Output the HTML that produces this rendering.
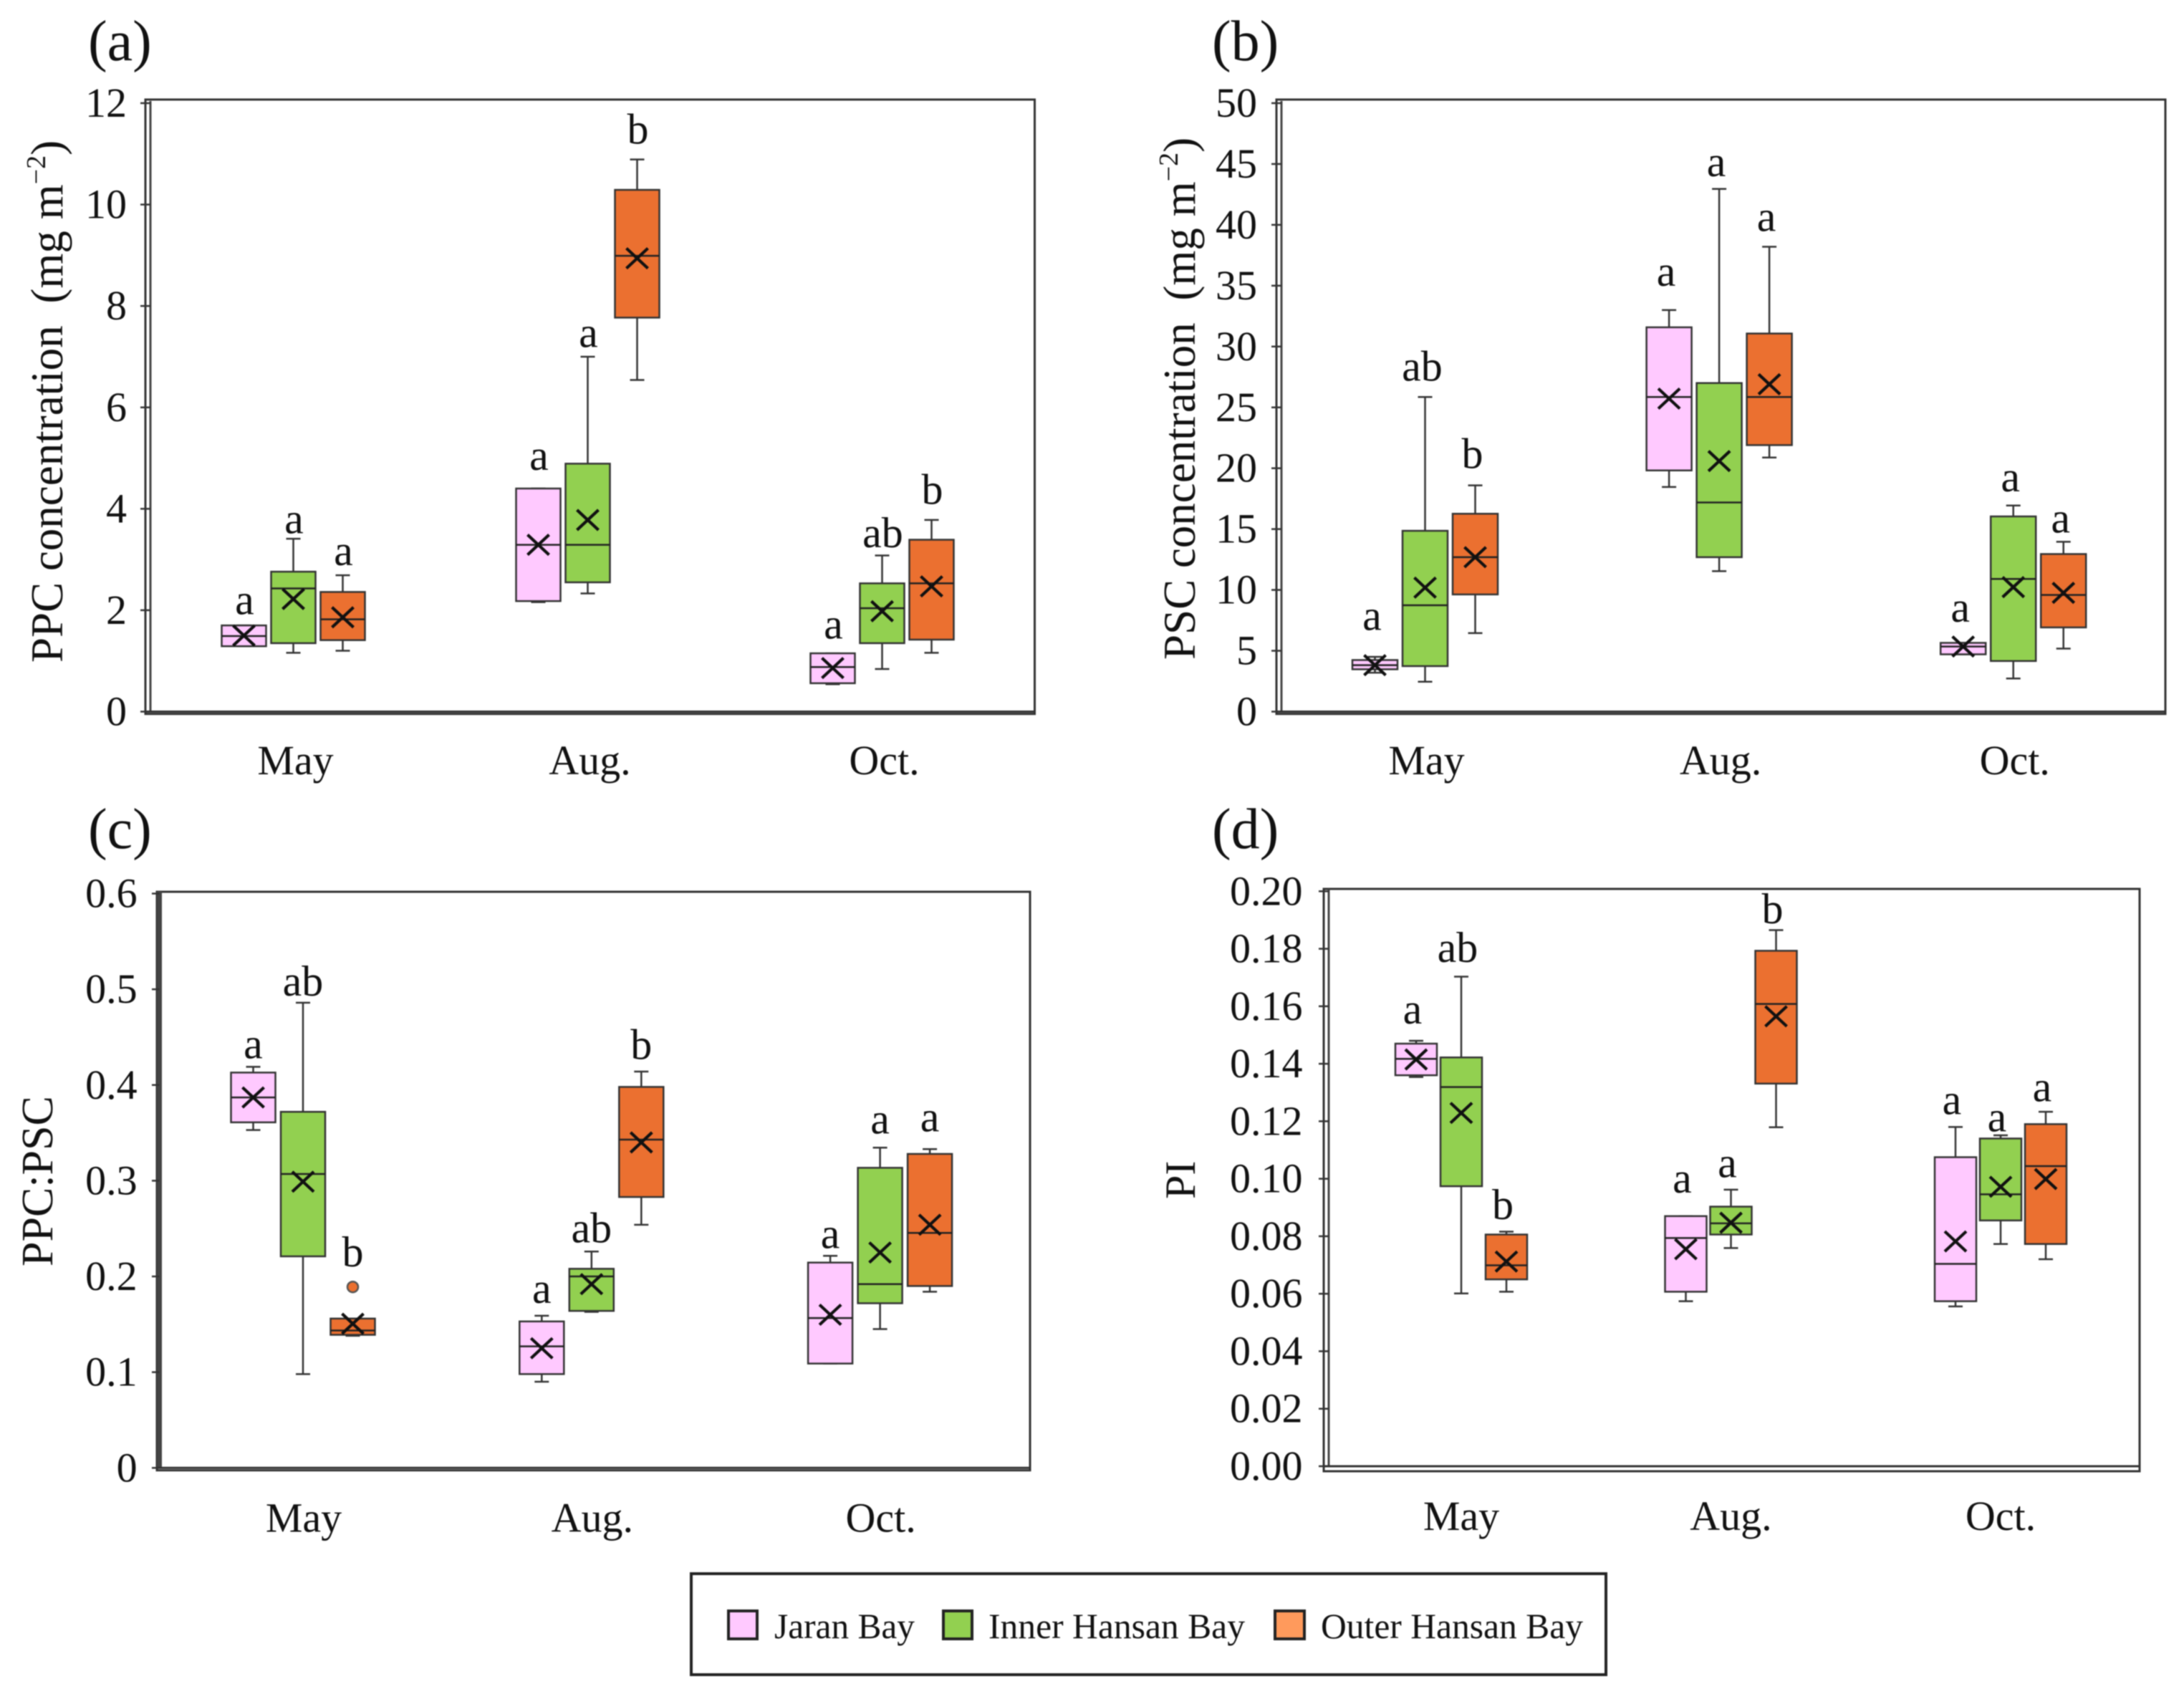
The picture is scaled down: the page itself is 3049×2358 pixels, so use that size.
<!DOCTYPE html>
<html lang="en">
<head>
<meta charset="utf-8">
<title>PPC and PSC box plots</title>
<style>
html,body{margin:0;padding:0;background:#fff;width:3049px;height:2358px;overflow:hidden}
svg{display:block;position:absolute;left:0;top:0;filter:blur(0.7px)}
text{font-family:"Liberation Serif","Times New Roman",serif;fill:#111}
</style>
</head>
<body>
<svg id="figure" xmlns="http://www.w3.org/2000/svg" width="3049" height="2358" viewBox="0 0 3049 2358">
  <rect x="0" y="0" width="3049" height="2358" fill="#fff"/>
  <text x="123" y="84" font-size="80">(a)</text>
  <text x="1692" y="84" font-size="80">(b)</text>
  <text x="123" y="1184" font-size="80">(c)</text>
  <text x="1692" y="1184" font-size="80">(d)</text>

  <text transform="translate(87,925) rotate(-90)" font-size="63">PPC concentration<tspan dx="15"> (mg m</tspan><tspan dy="-24" font-size="38">−2</tspan><tspan dy="24">)</tspan></text>
  <text transform="translate(1668,921) rotate(-90)" font-size="63">PSC concentration<tspan dx="15"> (mg m</tspan><tspan dy="-24" font-size="38">−2</tspan><tspan dy="24">)</tspan></text>
  <text transform="translate(73,1768) rotate(-90)" font-size="62">PPC:PSC</text>
  <text transform="translate(1668,1674) rotate(-90)" font-size="60">PI</text>

  <g>
    <rect x="965" y="2197" width="1277" height="141" fill="#fff" stroke="#222" stroke-width="4"/>
    <rect x="1017" y="2249" width="40" height="39" fill="#FFC9FF" stroke="#222" stroke-width="4"/>
    <text x="1081" y="2287" font-size="50" textLength="196" lengthAdjust="spacingAndGlyphs">Jaran Bay</text>
    <rect x="1317" y="2249" width="40" height="39" fill="#92D050" stroke="#222" stroke-width="4"/>
    <text x="1380" y="2287" font-size="50" textLength="358" lengthAdjust="spacingAndGlyphs">Inner Hansan Bay</text>
    <rect x="1780" y="2249" width="41" height="39" fill="#FF9A5C" stroke="#222" stroke-width="4"/>
    <text x="1844" y="2287" font-size="50" textLength="366" lengthAdjust="spacingAndGlyphs">Outer Hansan Bay</text>
  </g>
</svg>
<script>
// Shared categories. All value arrays run May, Aug., Oct. with Jaran, Inner, Outer inside each month.
const months = ['May', 'Aug.', 'Oct.'];
const sites = ['jaran', 'inner', 'outer'];

// Panel (a) PPC concentration
const aTickValues = [0, 2, 4, 6, 8, 10, 12];
const aTickLabels = ['0', '2', '4', '6', '8', '10', '12'];
const aLow = [1.29, 1.16, 1.20, 2.16, 2.33, 6.54, 0.54, 0.84, 1.16];
const aQ1 = [1.29, 1.35, 1.41, 2.18, 2.55, 7.77, 0.56, 1.35, 1.42];
const aMedian = [1.49, 2.43, 1.82, 3.29, 3.29, 8.99, 0.88, 2.04, 2.53];
const aQ3 = [1.70, 2.76, 2.36, 4.40, 4.89, 10.29, 1.15, 2.53, 3.39];
const aHigh = [1.70, 3.41, 2.69, 4.40, 7.00, 10.89, 1.15, 3.08, 3.78];
const aMean = [1.50, 2.22, 1.86, 3.29, 3.78, 8.94, 0.86, 1.98, 2.47];
const aLetters = ['a', 'a', 'a', 'a', 'a', 'b', 'a', 'ab', 'b'];
const aLetterLevels = [1.92, 3.52, 2.89, 4.77, 7.19, 11.2, 1.44, 3.24, 4.10];
const aOutliers = [null, null, null, null, null, null, null, null, null];

// Panel (b) PSC concentration
const bTickValues = [0, 5, 10, 15, 20, 25, 30, 35, 40, 45, 50];
const bTickLabels = ['0', '5', '10', '15', '20', '25', '30', '35', '40', '45', '50'];
const bLow = [3.2, 2.46, 6.45, 18.46, 11.54, 20.88, 4.71, 2.72, 5.18];
const bQ1 = [3.48, 3.74, 9.63, 19.82, 12.69, 21.9, 4.71, 4.16, 6.92];
const bMedian = [3.82, 8.74, 12.69, 25.85, 17.19, 25.85, 5.35, 10.9, 9.59];
const bQ3 = [4.24, 14.86, 16.26, 31.58, 27.0, 31.07, 5.65, 16.04, 12.95];
const bHigh = [4.5, 25.85, 18.59, 33.0, 42.95, 38.2, 5.65, 16.94, 13.96];
const bMean = [3.82, 10.19, 12.69, 25.72, 20.59, 26.9, 5.35, 10.23, 9.76];
const bLetters = ['a', 'ab', 'b', 'a', 'a', 'a', 'a', 'a', 'a'];
const bLetterLevels = [6.7, 27.2, 20.0, 35.0, 44.0, 39.5, 7.4, 18.1, 14.7];
const bOutliers = [null, null, null, null, null, null, null, null, null];

// Panel (c) PPC:PSC
const cTickValues = [0, 0.1, 0.2, 0.3, 0.4, 0.5, 0.6];
const cTickLabels = ['0', '0.1', '0.2', '0.3', '0.4', '0.5', '0.6'];
const cLow = [0.353, 0.098, 0.138, 0.09, 0.163, 0.254, 0.109, 0.145, 0.184];
const cQ1 = [0.361, 0.221, 0.139, 0.098, 0.164, 0.283, 0.109, 0.172, 0.19];
const cMedian = [0.387, 0.307, 0.1435, 0.127, 0.2, 0.343, 0.1565, 0.192, 0.2455];
const cQ3 = [0.413, 0.372, 0.156, 0.153, 0.208, 0.398, 0.2145, 0.3135, 0.328];
const cHigh = [0.419, 0.486, 0.156, 0.159, 0.226, 0.414, 0.2215, 0.3345, 0.333];
const cMean = [0.387, 0.299, 0.1506, 0.125, 0.192, 0.34, 0.16, 0.225, 0.254];
const cLetters = ['a', 'ab', 'b', 'a', 'ab', 'b', 'a', 'a', 'a'];
const cLetterLevels = [0.428, 0.4933, 0.2104, 0.1723, 0.2356, 0.4271, 0.2297, 0.3492, 0.3516];
const cOutliers = [null, null, 0.189, null, null, null, null, null, null];

// Panel (d) PI
const dTickValues = [0, 0.02, 0.04, 0.06, 0.08, 0.1, 0.12, 0.14, 0.16, 0.18, 0.2];
const dTickLabels = ['0.00', '0.02', '0.04', '0.06', '0.08', '0.10', '0.12', '0.14', '0.16', '0.18', '0.20'];
const dLow = [0.1354, 0.0601, 0.0607, 0.0574, 0.0759, 0.1179, 0.0556, 0.0773, 0.072];
const dQ1 = [0.136, 0.0974, 0.065, 0.0607, 0.0806, 0.1331, 0.0574, 0.0855, 0.0773];
const dMedian = [0.1417, 0.1319, 0.0699, 0.0794, 0.0845, 0.1608, 0.0704, 0.0946, 0.1044];
const dQ3 = [0.147, 0.1422, 0.0806, 0.087, 0.0903, 0.1793, 0.1075, 0.114, 0.119];
const dHigh = [0.148, 0.1703, 0.0816, 0.087, 0.0962, 0.1865, 0.118, 0.1151, 0.1233];
const dMean = [0.1415, 0.1229, 0.0712, 0.0755, 0.0847, 0.1565, 0.0782, 0.0972, 0.0999];
const dLetters = ['a', 'ab', 'b', 'a', 'a', 'b', 'a', 'a', 'a'];
const dLetterLevels = [0.154, 0.1754, 0.086, 0.0952, 0.1005, 0.1889, 0.1225, 0.1165, 0.127];
const dOutliers = [null, null, null, null, null, null, null, null, null];

const SVG_NS = 'http://www.w3.org/2000/svg';
const figure = document.getElementById('figure');
const siteFill = { jaran: '#FFC9FF', inner: '#92D050', outer: '#EB7030' };

function make(tag, parent, attrs) {
  const node = document.createElementNS(SVG_NS, tag);
  for (const key in attrs) node.setAttribute(key, attrs[key]);
  parent.appendChild(node);
  return node;
}

function drawPanel(id, geo, ticks, tickLabels, stats) {
  const panel = make('g', figure, {});
  
  

  const maxTick = Math.max(...ticks);
  const yOf = v => geo.y0 - (v / maxTick) * (geo.y0 - geo.yMax);
  const groupX = i => geo.bandLeft + geo.band * (i + 0.5);
  const boxX = (i, s) => groupX(i) + (s - 1) * geo.offset;

  const frame = make('rect', panel, {
    x: geo.outerL, y: geo.top, width: geo.right - geo.outerL, height: geo.bottom - geo.top,
    fill: '#fff', stroke: '#333', 'stroke-width': 3
  });
  
  

  const yAxis = make('line', panel, {
    x1: geo.axisX, x2: geo.axisX, y1: geo.yMax - 3, y2: geo.y0,
    stroke: '#444', 'stroke-width': geo.axisW
  });
  
  

  const xAxis = make('line', panel, {
    x1: geo.outerL, x2: geo.right, y1: geo.y0, y2: geo.y0,
    stroke: '#333', 'stroke-width': 3
  });
  
  

  ticks.forEach((value, i) => {
    const tick = make('line', panel, {
      x1: geo.outerL - 7, x2: geo.axisX, y1: yOf(value), y2: yOf(value),
      stroke: '#333', 'stroke-width': 2.5
    });
    
    

    const label = make('text', panel, {
      x: geo.tickEnd, y: yOf(value) + 19, 'text-anchor': 'end', 'font-size': 58
    });
    label.textContent = tickLabels[i];
    
    
  });

  months.forEach((month, i) => {
    const label = make('text', panel, {
      x: groupX(i) + geo.catDx, y: geo.catY, 'text-anchor': 'middle', 'font-size': 58
    });
    label.textContent = month;
    
    

    sites.forEach((site, s) => {
      const k = i * 3 + s;
      const cx = boxX(i, s);
      const half = geo.boxW / 2;
      const group = make('g', panel, {});
      
      

      const whisker = make('line', group, {
        x1: cx, x2: cx, y1: yOf(stats.high[k]), y2: yOf(stats.low[k]),
        stroke: '#333', 'stroke-width': 2.5
      });
      
      

      [stats.high[k], stats.low[k]].forEach(v => {
        const cap = make('line', group, {
          x1: cx - 10, x2: cx + 10, y1: yOf(v), y2: yOf(v),
          stroke: '#333', 'stroke-width': 2.5
        });
        
        
      });

      const box = make('rect', group, {
        x: cx - half, y: yOf(stats.q3[k]), width: geo.boxW,
        height: yOf(stats.q1[k]) - yOf(stats.q3[k]),
        fill: siteFill[site], stroke: '#333', 'stroke-width': 2.5
      });
      
      

      const median = make('line', group, {
        x1: cx - half, x2: cx + half, y1: yOf(stats.median[k]), y2: yOf(stats.median[k]),
        stroke: '#222', 'stroke-width': 2.5
      });
      
      

      const my = yOf(stats.mean[k]);
      const mean = make('path', group, {
        d: 'M' + (cx - 15) + ' ' + (my - 14) + 'L' + (cx + 15) + ' ' + (my + 14) +
           'M' + (cx + 15) + ' ' + (my - 14) + 'L' + (cx - 15) + ' ' + (my + 14),
        fill: 'none', stroke: '#111', 'stroke-width': 4.2
      });
      
      

      if (stats.outliers[k] !== null) {
        const dot = make('circle', group, {
          cx: cx, cy: yOf(stats.outliers[k]), r: 7.5,
          fill: siteFill[site], stroke: '#555', 'stroke-width': 2.5
        });
        
        
      }

      const letter = make('text', group, {
        x: cx + geo.letterDx, y: yOf(stats.levels[k]), 'text-anchor': 'middle', 'font-size': 60
      });
      letter.textContent = stats.letters[k];
      
      
    });
  });
}

drawPanel('a',
  { outerL: 203, axisX: 210, axisW: 3, right: 1444.5, top: 139, bottom: 996.7, y0: 993.5, yMax: 144,
    bandLeft: 204, band: 411, offset: 69, boxW: 62, tickEnd: 177, catY: 1081, catDx: 3, letterDx: 1 },
  aTickValues, aTickLabels,
  { low: aLow, q1: aQ1, median: aMedian, q3: aQ3, high: aHigh, mean: aMean, letters: aLetters, levels: aLetterLevels, outliers: aOutliers });

drawPanel('b',
  { outerL: 1782, axisX: 1789, axisW: 3, right: 3023, top: 139, bottom: 996.7, y0: 993.5, yMax: 144,
    bandLeft: 1784.2, band: 410.6, offset: 70, boxW: 63, tickEnd: 1755, catY: 1081, catDx: 2, letterDx: -4 },
  bTickValues, bTickLabels,
  { low: bLow, q1: bQ1, median: bMedian, q3: bQ3, high: bHigh, mean: bMean, letters: bLetters, levels: bLetterLevels, outliers: bOutliers });

drawPanel('c',
  { outerL: 219, axisX: 222.5, axisW: 7, right: 1438, top: 1245, bottom: 2052.7, y0: 2049.3, yMax: 1247.5,
    bandLeft: 221.6, band: 402.8, offset: 69.5, boxW: 62, tickEnd: 191.6, catY: 2138.6, catDx: 1, letterDx: 0 },
  cTickValues, cTickLabels,
  { low: cLow, q1: cQ1, median: cMedian, q3: cQ3, high: cHigh, mean: cMean, letters: cLetters, levels: cLetterLevels, outliers: cOutliers });

drawPanel('d',
  { outerL: 1848, axisX: 1855, axisW: 3, right: 2987, top: 1241, bottom: 2054, y0: 2047, yMax: 1244.3,
    bandLeft: 1851.75, band: 376.5, offset: 63, boxW: 58, tickEnd: 1818.5, catY: 2136, catDx: 0, letterDx: -5 },
  dTickValues, dTickLabels,
  { low: dLow, q1: dQ1, median: dMedian, q3: dQ3, high: dHigh, mean: dMean, letters: dLetters, levels: dLetterLevels, outliers: dOutliers });
</script>
</body>
</html>
